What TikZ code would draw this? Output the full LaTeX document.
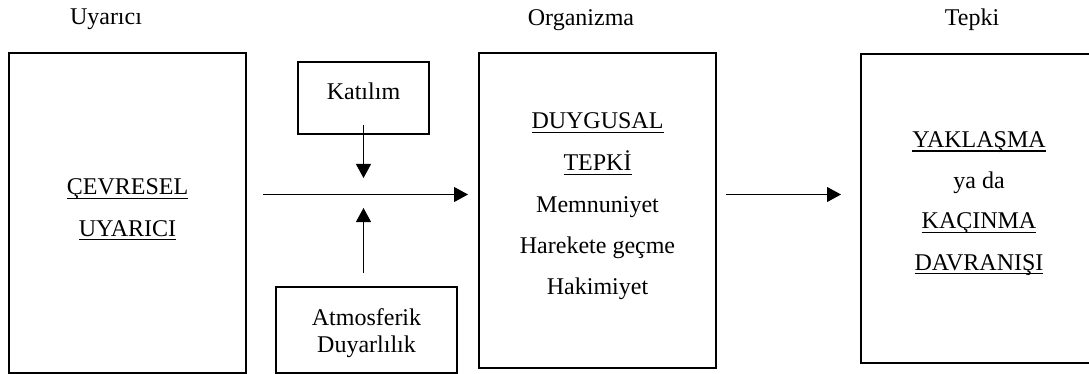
\documentclass[tikz,border=0pt]{standalone}
\usepackage{fontspec}
\setmainfont{Liberation Serif}
\usetikzlibrary{arrows.meta}
\newcommand\ulx[1]{\setbox0=\hbox{#1}\rlap{\rule[-4.2pt]{\wd0}{1.4pt}}\box0}
\begin{document}
\begin{tikzpicture}[x=1pt,y=-1pt,
  box/.style={draw, line width=2pt, inner sep=0pt},
  lab/.style={font=\fontsize{24}{28}\selectfont, inner sep=0pt, anchor=base},
  arr/.style={line width=1pt, -{Triangle[length=14pt,width=15pt]}}]
\useasboundingbox (0,0) rectangle (1089,374);
% headers
\node[lab] (h1) at (106,25) {Uyarıcı};
\node[lab] (h2) at (581,26) {Organizma};
\node[lab] (h3) at (972,26) {Tepki};
% boxes
\node[box, minimum width=237pt, minimum height=319pt] (b1) at (127.5,213) {};
\node[box, minimum width=131pt, minimum height=72pt] (kat) at (363.5,98) {};
\node[box, minimum width=181pt, minimum height=86pt] (atm) at (366.5,330) {};
\node[box, minimum width=237pt, minimum height=315pt] (b2) at (597.5,210.5) {};
\node[box, minimum width=236pt, minimum height=309pt] (b3) at (979,208.5) {};
% box 1 text
\node[lab] (t11) at (127.5,195) {\ulx{ÇEVRESEL}};
\node[lab] (t12) at (127.5,236) {\ulx{UYARICI}};
% small boxes text
\node[lab] (tk) at (363.5,100) {Katılım};
\node[lab] (ta1) at (366.5,325) {Atmosferik};
\node[lab] (ta2) at (366.5,352) {Duyarlılık};
% box 2 text
\node[lab] (t21) at (597.5,129) {\ulx{DUYGUSAL}};
\node[lab] (t22) at (597.5,171) {\ulx{TEPKİ}};
\node[lab] (t23) at (597.5,212) {Memnuniyet};
\node[lab] (t24) at (597.5,253) {Harekete geçme};
\node[lab] (t25) at (597.5,294) {Hakimiyet};
% box 3 text
\node[lab] (t31) at (979,147.5) {\ulx{YAKLAŞMA}};
\node[lab] (t32) at (979,188.5) {ya da};
\node[lab] (t33) at (979,229) {\ulx{KAÇINMA}};
\node[lab] (t34) at (979,270) {\ulx{DAVRANIŞI}};
% connectors
\coordinate (h1s) at (263,194.5);
\coordinate (h1e) at (468,194.5);
\coordinate (h2s) at (726,194.5);
\coordinate (h2e) at (841,194.5);
\draw[arr] (h1s) -- (h1e);
\draw[arr] (h2s) -- (h2e);
\coordinate (dk) at (363.5,178);
\coordinate (ua) at (363.5,208);
\draw[arr] ([yshift=10pt]kat.south -| dk) -- (dk);
\draw[arr] ([yshift=13pt]atm.north -| ua) -- (ua);
\end{tikzpicture}
\end{document}
